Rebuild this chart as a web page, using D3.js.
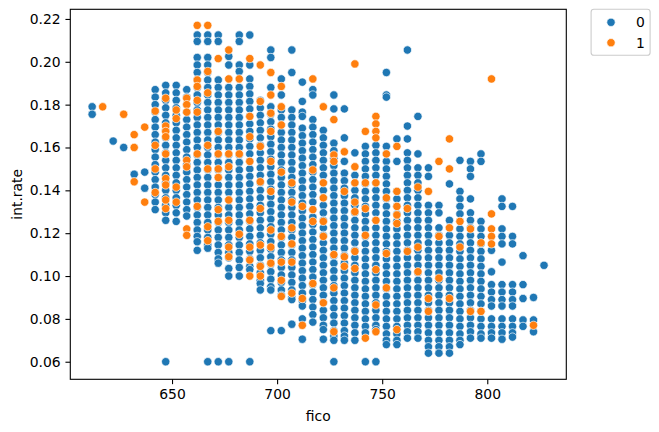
<!DOCTYPE html>
<html>
<head>
<meta charset="utf-8">
<script src="https://cdn.jsdelivr.net/npm/d3@7"></script>
<style>
  body { margin: 0; background: #fff; }
  svg { font-family: "DejaVu Sans", sans-serif; }
</style>
</head>
<body>
<svg id="chart" width="659" height="432"></svg>
<script>
// fico score columns (x)
const fico = [612, 617, 622, 627, 632, 637, 642, 647, 652, 657, 662, 667, 672, 677, 682, 687, 692, 697, 702, 707, 712, 717,
  722, 727, 732, 737, 742, 747, 752, 757, 762, 767, 772, 777, 782, 787, 792, 797, 802, 807, 812, 817, 822, 827];

// int.rate values per fico column, in thousandths, class 0 (fully paid)
const rate0 = [
  [179, 175.5], [], [163], [160], [147.5], [148.5, 141],
  [187, 183.5, 180, 176.5, 173, 169.5, 166, 162.5, 159, 155.5, 152, 148.5, 145, 141.5, 138, 134.5, 131],
  [189, 185.5, 182, 178.5, 175, 171.5, 168, 164.5, 161, 157.5, 154, 150.5, 147, 143.5, 140, 136.5, 133, 129.5, 126, 60],
  [189, 185.5, 182, 178.5, 175, 171.5, 168, 164.5, 161, 157.5, 154, 150.5, 147, 143.5, 140, 136.5, 133, 129.5, 125.5],
  [187, 183.5, 180, 176.5, 173, 169.5, 166, 162.5, 159, 155.5, 152, 148.5, 145, 141.5, 138, 134.5, 131, 128],
  [212.5, 209.5, 202, 198.5, 195, 191.5, 188, 184.5, 181, 177.5, 174, 170.5, 167, 163.5, 160, 156.5, 153, 149.5, 146, 142.5, 139, 135.5, 132, 128.5, 125, 121.5, 118.5, 116, 112],
  [212.5, 209.5, 202, 198.5, 195, 191.5, 188, 184.5, 181, 177.5, 174, 170.5, 167, 163.5, 160, 156.5, 153, 149.5, 146, 142.5, 139, 135.5, 132, 128.5, 125, 121.5, 118, 114.5, 113, 60],
  [212.5, 209.5, 191.5, 188, 184.5, 181, 177.5, 174, 170.5, 167, 163.5, 160, 156.5, 153, 149.5, 146, 142.5, 139, 135.5, 132, 128.5, 125, 121.5, 118, 114.5, 111, 108, 106, 60],
  [202.5, 198.5, 188, 184.5, 181, 177.5, 174, 170.5, 167, 163.5, 160, 156.5, 153, 149.5, 146, 142.5, 139, 135.5, 132, 128.5, 125, 121.5, 118, 114.5, 111, 108.5, 103.5, 100, 60],
  [212.5, 209.5, 198.5, 195.5, 188, 184.5, 181, 177.5, 174, 170.5, 167, 163.5, 160, 156.5, 153, 149.5, 146, 142.5, 139, 135.5, 132, 128.5, 125, 121.5, 118, 114.5, 111, 107.5, 104, 100],
  [212.5, 198.5, 192, 188.5, 185, 181.5, 178, 174.5, 171, 167.5, 164, 160.5, 157, 153.5, 150, 146.5, 143, 139.5, 136, 132.5, 129, 125.5, 122, 118.5, 115, 111.5, 108, 104.5, 103, 60],
  [182, 178.5, 175, 171.5, 168, 164.5, 161, 157.5, 154, 150.5, 147, 143.5, 140, 136.5, 133, 129.5, 126, 122.5, 119, 115.5, 112, 108.5, 105, 101.5, 98, 96.5, 93.5],
  [205.5, 202, 188, 179, 175.5, 172, 168.5, 165, 161.5, 158, 154.5, 151, 147.5, 144, 140.5, 137, 133.5, 130, 126.5, 123, 119.5, 116, 112.5, 109, 105.5, 102, 98.5, 95, 93.5, 74.5],
  [192, 184.5, 177.5, 174, 170.5, 167, 163.5, 160, 156.5, 153, 149.5, 146, 142.5, 139, 135.5, 132, 128.5, 125, 121.5, 118, 114.5, 111, 107.5, 104, 100.5, 97, 93.5, 91, 74.5],
  [205.5, 195, 177.5, 174, 170.5, 167, 163.5, 160, 156.5, 153, 149.5, 146, 142.5, 139, 135.5, 132, 128.5, 125, 121.5, 118, 114.5, 111, 107.5, 104, 100.5, 97, 93.5, 90, 89, 77.5],
  [190.5, 181.5, 176.5, 174.5, 169, 165.5, 162, 158.5, 155, 151.5, 148, 144.5, 141, 137.5, 134, 130.5, 127, 123.5, 120, 116.5, 113, 109.5, 106, 102.5, 99, 95.5, 92, 88.5, 86, 80, 70.5],
  [187, 184.5, 173, 169.5, 166, 162.5, 159, 155.5, 152, 148.5, 145, 141.5, 138, 134.5, 131, 127.5, 124, 120.5, 117, 113.5, 110, 106.5, 103, 99.5, 96, 92.5, 89, 85.5, 82, 78.5],
  [168, 164.5, 161, 157.5, 154, 150.5, 147, 143.5, 140, 136.5, 133, 129.5, 126, 122.5, 119, 115.5, 112, 108.5, 105, 101.5, 98, 94.5, 91, 87.5, 84, 80.5, 77, 75, 70.5],
  [184.5, 178, 162, 158.5, 155, 151.5, 148, 144.5, 141, 137.5, 134, 130.5, 127, 123.5, 120, 116.5, 113, 109.5, 106, 102.5, 99, 95.5, 92, 88.5, 85, 81.5, 78, 74.5, 72, 70, 60],
  [178, 164.5, 153.5, 148, 144.5, 141, 137.5, 134, 130.5, 127, 123.5, 120, 116.5, 113, 109.5, 106, 102.5, 99, 95.5, 92, 88.5, 85, 81.5, 78, 74.5, 72, 70],
  [157.5, 147, 143.5, 140, 136.5, 133, 129.5, 126, 122.5, 119, 115.5, 112, 108.5, 105, 101.5, 98, 94.5, 91, 87.5, 84, 80.5, 77, 73.5, 70],
  [160.5, 157, 153.5, 150, 146.5, 143, 139.5, 136, 132.5, 129, 125.5, 122, 118.5, 115, 111.5, 108, 104.5, 101, 97.5, 94, 90.5, 87, 83.5, 80, 76.5, 73.5, 60],
  [161, 157.5, 154, 150.5, 147, 143.5, 140, 136.5, 133, 129.5, 126, 122.5, 119, 115.5, 112, 108.5, 105, 101.5, 98, 94.5, 91, 87.5, 84, 80.5, 77, 75, 60],
  [195, 184.5, 183.5, 160.5, 157, 153.5, 150, 146.5, 143, 139.5, 136, 132.5, 129, 125.5, 122, 118.5, 115, 111.5, 108, 104.5, 101, 97.5, 94, 90.5, 87, 83.5, 80, 76.5, 73, 70, 68],
  [164, 153.5, 139.5, 136, 132.5, 129, 125.5, 122, 118.5, 115, 111.5, 108, 104.5, 101, 97.5, 94, 90.5, 87, 83.5, 80, 76.5, 73, 70, 68],
  [205.5, 170, 164, 157.5, 154, 150.5, 147, 143.5, 140, 136.5, 133, 129.5, 126, 122.5, 119, 115.5, 112, 108.5, 105, 101.5, 98, 94.5, 91, 87.5, 84, 80.5, 77, 74, 71],
  [174.5, 157, 150.5, 147, 143.5, 140, 136.5, 133, 129.5, 126, 122.5, 119, 115.5, 112, 108.5, 105, 101.5, 98, 94.5, 91, 87.5, 84, 80.5, 77, 74, 71],
  [150.5, 146.5, 133, 129.5, 126, 122.5, 119, 115.5, 112, 108.5, 105, 101.5, 98, 94.5, 91, 87.5, 84, 80.5, 77, 73.5, 70, 67, 64],
  [133, 129.5, 122.5, 119, 115.5, 112, 108.5, 105, 101.5, 98, 94.5, 91, 87.5, 84, 80.5, 77, 73.5, 70, 67, 64],
  [143, 126, 122.5, 119, 115.5, 112, 108.5, 105, 101.5, 98, 94.5, 91, 87.5, 84, 80.5, 77, 73.5, 70, 67, 64],
  [154, 139.5, 136, 132.5, 129, 125.5, 122, 118.5, 115, 111.5, 108, 104.5, 101, 97.5, 94, 90.5, 87, 83.5, 80, 76.5, 73, 70, 68],
  [153.5, 150, 146.5, 136, 129.5, 126, 122.5, 119, 115.5, 112, 108.5, 105, 101.5, 98, 94.5, 91, 87.5, 84, 80.5, 77, 74, 71],
  [157, 153.5, 125.5, 122, 118.5, 115, 111.5, 108, 104.5, 101, 97.5, 94, 90.5, 87, 83.5, 80, 76.5, 73, 71],
  [112, 102, 96, 92.5, 89, 86, 80, 76.5, 73.5, 71],
  [136, 132.5, 122, 118.5, 115, 106.5, 96, 92.5, 89, 86, 80, 76.5, 73.5, 70.5],
  [132.5, 118.5, 115, 96, 92.5, 89, 86, 80, 76.5, 73.5, 71.5],
  [109.5, 96, 89.5, 79.5, 76.5],
  [90, 79.5, 74],
  [105]
];

// int.rate values per fico column, in thousandths, class 1 (not fully paid)
const rate1 = [
  [], [179], [], [175.5], [166, 160, 144], [169.5, 134.5],
  [177, 161, 150, 139],
  [183, 170, 167.5, 165, 157, 145.5, 142.5, 135.5, 131.5],
  [177.5, 173.5, 141.5, 134.5],
  [183, 180, 176.5, 154, 151, 122, 119],
  [217, 191.5, 188.5, 182, 176.5, 157, 132.5],
  [217, 195.5, 185.5, 161, 150, 123, 116.5],
  [201.5, 167.5, 157, 150, 146, 131, 125.5],
  [205.5, 192, 157, 151, 135.5, 126, 113.5, 109],
  [192, 157, 119.5],
  [201.5, 174.5, 165, 153.5, 126, 113.5, 107.5, 100],
  [198.5, 181.5, 160.5, 144, 131.5, 114.5, 104.5, 100],
  [195, 184.5, 176, 167.5, 153.5, 139.5, 121.5, 113.5, 106],
  [188.5, 179, 170.5, 148.5, 118.5, 106.5, 98, 90.5],
  [143.5, 134.5, 122.5, 115, 106.5, 92],
  [132.5, 89.5, 77],
  [192, 149.5, 131, 125.5, 96.5],
  [179, 143.5, 136.5, 125.5, 118.5, 87.5],
  [173, 156.5, 153.5, 110, 94.5, 74],
  [158, 139.5, 109, 104.5],
  [199, 151, 143.5, 134.5, 130, 111.5, 103.5],
  [167.5, 143.5, 131.5, 119, 71],
  [174.5, 171, 167.5, 164.5, 143.5, 126, 103, 86.5, 74],
  [157, 136.5, 110.5, 94.5],
  [160.5, 139.5, 132.5, 128.5, 124.5, 75],
  [131.5, 111.5],
  [141.5, 113.5, 102],
  [139.5, 89.5, 83.5],
  [153.5, 118.5, 99],
  [164, 150, 122.5, 89.5],
  [125.5, 113.5],
  [122, 83.5],
  [115.5, 83.5],
  [192, 129, 122, 118.5, 115],
  [], [], [], [77], []
];

const classes = ["0", "1"];
const colors = ["#1f77b4", "#ff7f0e"];
const xTicks = [650, 700, 750, 800];
const yTicks = [0.06, 0.08, 0.10, 0.12, 0.14, 0.16, 0.18, 0.20, 0.22];

const plotLeft = 70.3, plotRight = 566.3, plotTop = 9.3, plotBottom = 379.3;
const fontSize = 13.9;

const x = d3.scaleLinear().domain([601.6, 837.6]).range([plotLeft, plotRight]);
const y = d3.scaleLinear().domain([0.0518, 0.2245]).range([plotBottom, plotTop]);

const points = [];
[rate0, rate1].forEach((series, cls) => {
  series.forEach((rates, i) => {
    rates.forEach(r => points.push({ fico: fico[i], rate: r / 1000, cls }));
  });
});

const svg = d3.select("#chart");

svg.append("g")
  .selectAll("circle")
  .data(points)
  .join("circle")
  .attr("cx", d => x(d.fico))
  .attr("cy", d => y(d.rate))
  .attr("r", 4.17)
  .attr("fill", d => colors[d.cls])
  .attr("stroke", "#fff")
  .attr("stroke-width", 0.67);

// axes
const xAxis = svg.append("g")
  .attr("transform", `translate(0,${plotBottom})`)
  .call(d3.axisBottom(x).tickValues(xTicks).tickSize(4.86).tickPadding(4.86).tickSizeOuter(0));

const yAxis = svg.append("g")
  .attr("transform", `translate(${plotLeft},0)`)
  .call(d3.axisLeft(y).tickValues(yTicks).tickFormat(d3.format(".2f")).tickSize(4.86).tickPadding(4.86).tickSizeOuter(0));

[xAxis, yAxis].forEach(g => {
  g.select(".domain").remove();
  g.selectAll("line").attr("stroke", "#000").attr("stroke-width", 1.1);
  g.selectAll("text")
    .attr("fill", "#000")
    .style("font-family", "DejaVu Sans, sans-serif")
    .style("font-size", fontSize + "px");
});

svg.append("rect")
  .attr("x", plotLeft)
  .attr("y", plotTop)
  .attr("width", plotRight - plotLeft)
  .attr("height", plotBottom - plotTop)
  .attr("fill", "none")
  .attr("stroke", "#000")
  .attr("stroke-width", 1.1);

svg.append("text")
  .attr("x", (plotLeft + plotRight) / 2)
  .attr("y", 421)
  .attr("text-anchor", "middle")
  .style("font-size", fontSize + "px")
  .text("fico");

svg.append("text")
  .attr("transform", `translate(22,${(plotTop + plotBottom) / 2}) rotate(-90)`)
  .attr("text-anchor", "middle")
  .style("font-size", fontSize + "px")
  .text("int.rate");

// legend
const legend = svg.append("g");
legend.append("rect")
  .attr("x", 591.1)
  .attr("y", plotTop)
  .attr("width", 59)
  .attr("height", 46)
  .attr("rx", 2.8)
  .attr("fill", "#fff")
  .attr("fill-opacity", 0.8)
  .attr("stroke", "#ccc")
  .attr("stroke-width", 1.1);

legend.selectAll("g.item")
  .data(classes)
  .join("g")
  .attr("class", "item")
  .attr("transform", (d, i) => `translate(0,${22.3 + i * 20.4})`)
  .each(function (d, i) {
    const g = d3.select(this);
    g.append("circle")
      .attr("cx", 611)
      .attr("cy", 0)
      .attr("r", 4.17)
      .attr("fill", colors[i])
      .attr("stroke", "#fff")
      .attr("stroke-width", 0.67);
    g.append("text")
      .attr("x", 636)
      .attr("dy", "0.35em")
      .style("font-size", fontSize + "px")
      .text(d);
  });
</script>
</body>
</html>
